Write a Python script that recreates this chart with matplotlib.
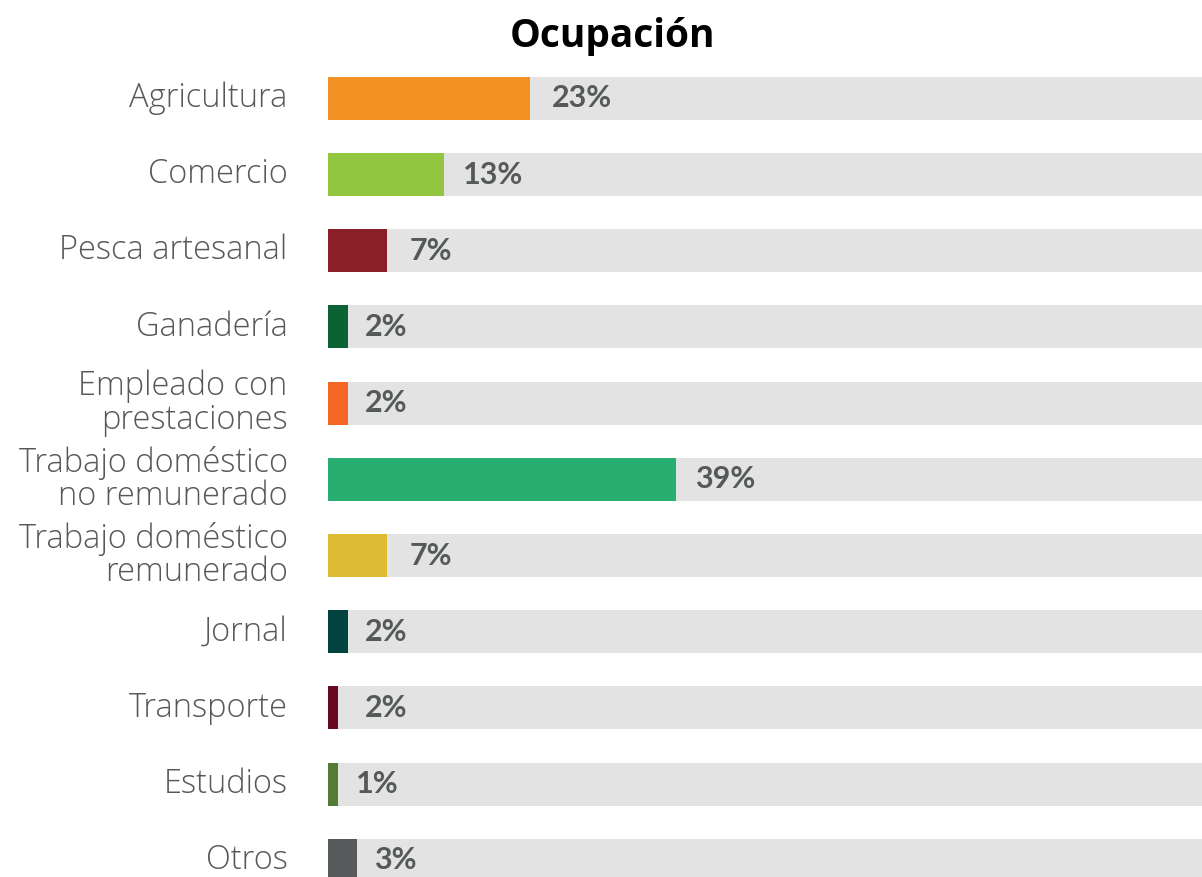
import matplotlib.pyplot as plt
import numpy as np

categorias = ["Agricultura", "Comercio", "Pesca artesanal", "Ganadería",
              "Empleado con\nprestaciones", "Trabajo doméstico\nno remunerado",
              "Trabajo doméstico\nremunerado", "Jornal", "Transporte",
              "Estudios", "Otros"]
valores = [22.7, 13.0, 6.6, 2.2, 2.2, 39.1, 6.6, 2.2, 1.1, 1.1, 3.3]
etiquetas = [23, 13, 7, 2, 2, 39, 7, 2, 2, 1, 3]
colores = ["#F29225", "#92C640", "#8A1F28", "#0B6232", "#F46624", "#27AE70",
           "#DDBB33", "#03433F", "#650A1F", "#537B36", "#565A5B"]

gris_texto = "#555959"

fig = plt.figure(figsize=(12.02, 8.77), dpi=100)
ax = fig.add_axes([328 / 1202, 0, 874 / 1202, 1])

y = np.arange(len(categorias))
alto = 0.565

# fondo gris de cada barra
ax.barh(y, [100] * len(y), height=alto, color="#E3E3E3", zorder=1)
ax.barh(y, valores, height=alto, color=colores, zorder=2)

for i, et in enumerate(etiquetas):
    ax.annotate(f"{et}%", xy=(et, i), xytext=(14, 0), textcoords="offset points",
                va="center", ha="left", fontsize=22, fontweight="bold",
                color=gris_texto, family=["Lato", "DejaVu Sans"], zorder=3)

for i, cat in enumerate(categorias):
    ax.annotate(cat, xy=(0, i), xytext=(-29, 0), textcoords="offset points",
                va="center", ha="right", fontsize=23.5, fontweight="light",
                color=gris_texto, family=["Open Sans", "DejaVu Sans"],
                linespacing=1.0, annotation_clip=False)

ax.set_xlim(0, 874 / 8.9)
ax.set_ylim(10.219, -1.290)
ax.axis("off")

fig.text(612 / 1202, 1 - 37 / 877, "Ocupación", ha="center", va="center",
         fontsize=28, fontweight="bold", color="black",
         family=["Open Sans", "DejaVu Sans"])

fig.savefig("out.png", dpi=100)
